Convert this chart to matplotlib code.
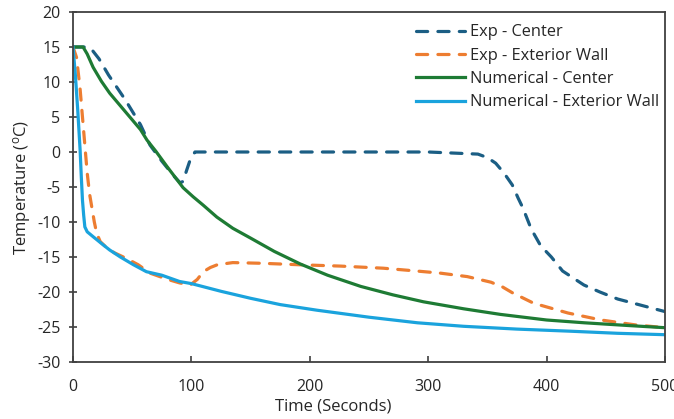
import matplotlib
matplotlib.use("Agg")
import matplotlib.pyplot as plt

# ---- data ----
exp_center_t = [0, 12, 16, 22, 30, 44, 57, 65, 75, 85, 90.5, 93, 96, 99, 103, 110, 200, 300, 342, 350, 357, 364, 371, 376, 380, 387, 395, 404, 413.5, 431.5, 445, 460, 480, 500]
exp_center_T = [15, 15, 14.6, 13.3, 11.0, 7.5, 3.9, 1.0, -1.3, -3.4, -4.4, -4.2, -2.6, -1.1, 0, 0, 0, 0, -0.3, -0.8, -1.6, -3.0, -4.7, -6.6, -8.0, -11.0, -13.4, -15.0, -17.0, -19.0, -20.0, -21.0, -21.9, -22.8]

exp_wall_t = [0, 3, 6, 8, 10, 12, 14, 16, 18, 20, 23, 28, 35, 45, 55, 65, 80, 90, 99, 105, 110, 116, 122, 135, 160, 190, 226, 262, 290, 310, 333, 353, 363, 371, 389, 418, 446, 475, 500]
exp_wall_T = [15, 13.5, 9, 5, 1, -3, -6, -8, -10, -11.6, -12.8, -13.6, -14.4, -15.2, -16.1, -17.3, -18.2, -18.7, -19.0, -18.2, -17.1, -16.5, -16.1, -15.8, -15.9, -16.1, -16.3, -16.6, -17.0, -17.3, -17.8, -18.6, -19.3, -20.1, -21.6, -23.0, -24.0, -24.7, -25.1]

num_center_t = [0, 8.5, 12, 17, 24, 31, 40, 50, 57, 62.5, 70, 79.5, 93, 101.5, 110, 121.5, 135, 150, 170, 192, 215, 243, 270, 296, 330, 361, 400, 432, 470, 500]
num_center_T = [15, 15, 14, 12.1, 10.1, 8.4, 6.6, 4.6, 3.2, 1.7, 0.1, -2.1, -5.1, -6.4, -7.6, -9.3, -10.9, -12.3, -14.2, -16.0, -17.6, -19.2, -20.4, -21.4, -22.4, -23.2, -24.0, -24.4, -24.8, -25.1]

num_wall_t = [0, 2, 4, 6, 7, 8, 9, 10, 12, 17, 25, 31, 40, 51, 62, 75, 90, 100, 125, 150, 175, 206, 250, 291, 330, 375, 420, 460, 500]
num_wall_T = [15, 11, 6, 0.3, -3.5, -6.9, -9.0, -10.7, -11.4, -12.1, -13.2, -14.0, -15.0, -16.1, -17.1, -17.6, -18.5, -18.8, -19.9, -20.9, -21.8, -22.6, -23.6, -24.4, -24.9, -25.3, -25.6, -25.9, -26.1]

labels = ["Exp - Center", "Exp - Exterior Wall", "Numerical - Center", "Numerical - Exterior Wall"]
x_ticks = [0, 100, 200, 300, 400, 500]
y_ticks = [-30, -25, -20, -15, -10, -5, 0, 5, 10, 15, 20]

# ---- style ----
FONT = "Open Sans"
plt.rcParams['font.family'] = [FONT, 'DejaVu Sans']
plt.rcParams['mathtext.fontset'] = 'custom'
plt.rcParams['mathtext.rm'] = FONT
plt.rcParams['mathtext.it'] = FONT
plt.rcParams['axes.unicode_minus'] = False

c_exp_center = "#1B5E84"
c_exp_wall = "#ED7D31"
c_num_center = "#1E7B34"
c_num_wall = "#1AA3DD"
txt = "#262626"

fig = plt.figure(figsize=(6.74, 4.19), dpi=100)
ax = fig.add_axes([73/674, 1-362/419, (665-73)/674, (362-12)/419])

lw = 2.3
ax.plot(exp_center_t, exp_center_T, color=c_exp_center, lw=lw, dashes=(3.5, 3.2), dash_capstyle='round', label=labels[0])
ax.plot(exp_wall_t, exp_wall_T, color=c_exp_wall, lw=lw, dashes=(3.5, 3.2), dash_capstyle='round', label=labels[1])
ax.plot(num_center_t, num_center_T, color=c_num_center, lw=lw, label=labels[2])
ax.plot(num_wall_t, num_wall_T, color=c_num_wall, lw=lw, label=labels[3])

ax.set_xlim(0, 500)
ax.set_ylim(-30, 20)
ax.set_xticks(x_ticks)
ax.set_yticks(y_ticks)
ax.tick_params(axis='x', direction='in', length=4, width=1.2, colors="#404040", labelcolor=txt, labelsize=11.5, pad=12.5)
ax.tick_params(axis='y', direction='inout', length=6, width=1.2, colors="#404040", labelcolor=txt, labelsize=11.5, pad=6)
ax.tick_params(top=False, right=False)
for s in ax.spines.values():
    s.set_color("#404040")
    s.set_linewidth(1.3)

ax.set_xlabel("Time (Seconds)", fontsize=12, color=txt)
ax.xaxis.set_label_coords((333-73)/592, -0.103)
ax.set_ylabel("Temperature ($^{\\mathrm{o}}$C)", fontsize=12, color=txt, labelpad=3)

leg = ax.legend(loc='upper right', bbox_to_anchor=(1.011, 1.0), frameon=False, fontsize=11.8,
                handlelength=3.0, handletextpad=0.3, labelspacing=0.45,
                borderaxespad=0.45, borderpad=0.3)
for t in leg.get_texts():
    t.set_color(txt)

fig.savefig("out.png", dpi=100)
